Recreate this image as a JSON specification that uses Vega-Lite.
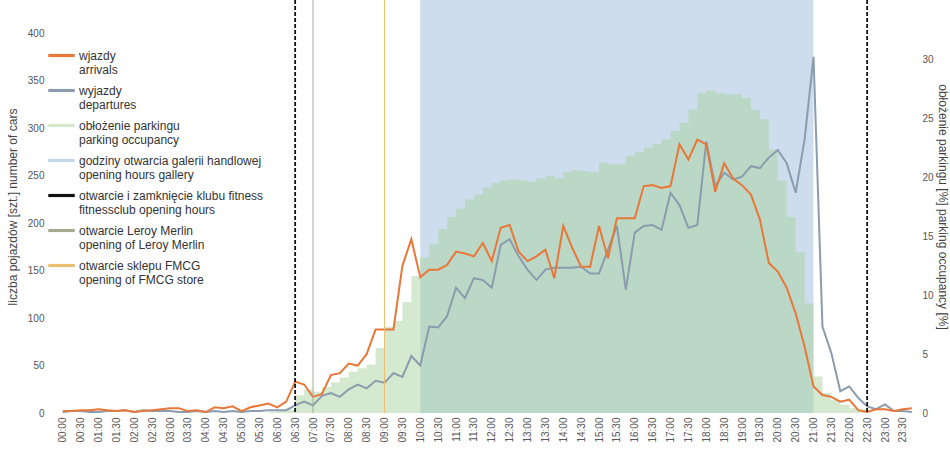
{
  "$schema": "https://vega.github.io/schema/vega-lite/v6.json",
  "width": 858,
  "height": 413,
  "autosize": "none",
  "padding": {"left": 58, "top": 0, "right": 34, "bottom": 43},
  "background": "white",
  "config": {
    "view": {"stroke": null},
    "font": "Liberation Sans",
    "axis": {"grid": false, "domain": false, "ticks": false, "labelColor": "#555", "labelFontSize": 10, "titleColor": "#444", "titleFontWeight": "normal", "titleFontSize": 11}
  },
  "datasets": {
    "ts": [
      {"t": "2020-01-01T00:00", "arr": 2, "dep": 1, "occ": 0},
      {"t": "2020-01-01T00:15", "arr": 2, "dep": 2, "occ": 0},
      {"t": "2020-01-01T00:30", "arr": 3, "dep": 2, "occ": 0},
      {"t": "2020-01-01T00:45", "arr": 3, "dep": 1, "occ": 0},
      {"t": "2020-01-01T01:00", "arr": 4, "dep": 1, "occ": 0},
      {"t": "2020-01-01T01:15", "arr": 3, "dep": 2, "occ": 0},
      {"t": "2020-01-01T01:30", "arr": 2, "dep": 2, "occ": 0},
      {"t": "2020-01-01T01:45", "arr": 3, "dep": 3, "occ": 0},
      {"t": "2020-01-01T02:00", "arr": 1, "dep": 1, "occ": 0},
      {"t": "2020-01-01T02:15", "arr": 2, "dep": 3, "occ": 0},
      {"t": "2020-01-01T02:30", "arr": 3, "dep": 2, "occ": 0},
      {"t": "2020-01-01T02:45", "arr": 4, "dep": 2, "occ": 0},
      {"t": "2020-01-01T03:00", "arr": 5, "dep": 2, "occ": 0},
      {"t": "2020-01-01T03:15", "arr": 5, "dep": 1, "occ": 0},
      {"t": "2020-01-01T03:30", "arr": 2, "dep": 1, "occ": 0},
      {"t": "2020-01-01T03:45", "arr": 3, "dep": 2, "occ": 0},
      {"t": "2020-01-01T04:00", "arr": 1, "dep": 1, "occ": 0},
      {"t": "2020-01-01T04:15", "arr": 6, "dep": 2, "occ": 0},
      {"t": "2020-01-01T04:30", "arr": 5, "dep": 1, "occ": 0},
      {"t": "2020-01-01T04:45", "arr": 7, "dep": 2, "occ": 0},
      {"t": "2020-01-01T05:00", "arr": 2, "dep": 1, "occ": 0},
      {"t": "2020-01-01T05:15", "arr": 6, "dep": 2, "occ": 0},
      {"t": "2020-01-01T05:30", "arr": 8, "dep": 2, "occ": 0},
      {"t": "2020-01-01T05:45", "arr": 10, "dep": 3, "occ": 0.1},
      {"t": "2020-01-01T06:00", "arr": 6, "dep": 3, "occ": 0.2},
      {"t": "2020-01-01T06:15", "arr": 12, "dep": 3, "occ": 0.3},
      {"t": "2020-01-01T06:30", "arr": 33, "dep": 8, "occ": 1.5},
      {"t": "2020-01-01T06:45", "arr": 30, "dep": 12, "occ": 2},
      {"t": "2020-01-01T07:00", "arr": 17, "dep": 8, "occ": 1.8},
      {"t": "2020-01-01T07:15", "arr": 20, "dep": 18, "occ": 2.2},
      {"t": "2020-01-01T07:30", "arr": 40, "dep": 21, "occ": 2.6},
      {"t": "2020-01-01T07:45", "arr": 42, "dep": 17, "occ": 3},
      {"t": "2020-01-01T08:00", "arr": 52, "dep": 25, "occ": 3.5},
      {"t": "2020-01-01T08:15", "arr": 50, "dep": 30, "occ": 3.8},
      {"t": "2020-01-01T08:30", "arr": 62, "dep": 26, "occ": 4.1},
      {"t": "2020-01-01T08:45", "arr": 88, "dep": 34, "occ": 5.5},
      {"t": "2020-01-01T09:00", "arr": 88, "dep": 32, "occ": 7.3},
      {"t": "2020-01-01T09:15", "arr": 88, "dep": 42, "occ": 7.8},
      {"t": "2020-01-01T09:30", "arr": 155, "dep": 38, "occ": 9.4},
      {"t": "2020-01-01T09:45", "arr": 183, "dep": 60, "occ": 11.6},
      {"t": "2020-01-01T10:00", "arr": 143, "dep": 50, "occ": 13.2},
      {"t": "2020-01-01T10:15", "arr": 151, "dep": 91, "occ": 14.3},
      {"t": "2020-01-01T10:30", "arr": 151, "dep": 90, "occ": 15.6},
      {"t": "2020-01-01T10:45", "arr": 156, "dep": 102, "occ": 16.6},
      {"t": "2020-01-01T11:00", "arr": 170, "dep": 132, "occ": 17.3},
      {"t": "2020-01-01T11:15", "arr": 168, "dep": 121, "occ": 18.1},
      {"t": "2020-01-01T11:30", "arr": 165, "dep": 142, "occ": 18.5},
      {"t": "2020-01-01T11:45", "arr": 179, "dep": 140, "occ": 19.1},
      {"t": "2020-01-01T12:00", "arr": 160, "dep": 132, "occ": 19.5},
      {"t": "2020-01-01T12:15", "arr": 195, "dep": 177, "occ": 19.7},
      {"t": "2020-01-01T12:30", "arr": 198, "dep": 183, "occ": 19.8},
      {"t": "2020-01-01T12:45", "arr": 170, "dep": 165, "occ": 19.7},
      {"t": "2020-01-01T13:00", "arr": 160, "dep": 151, "occ": 19.6},
      {"t": "2020-01-01T13:15", "arr": 165, "dep": 140, "occ": 19.9},
      {"t": "2020-01-01T13:30", "arr": 172, "dep": 151, "occ": 20.1},
      {"t": "2020-01-01T13:45", "arr": 142, "dep": 153, "occ": 19.9},
      {"t": "2020-01-01T14:00", "arr": 197, "dep": 153, "occ": 20.4},
      {"t": "2020-01-01T14:15", "arr": 174, "dep": 153, "occ": 20.6},
      {"t": "2020-01-01T14:30", "arr": 154, "dep": 154, "occ": 20.5},
      {"t": "2020-01-01T14:45", "arr": 154, "dep": 147, "occ": 20.4},
      {"t": "2020-01-01T15:00", "arr": 197, "dep": 147, "occ": 21.2},
      {"t": "2020-01-01T15:15", "arr": 163, "dep": 172, "occ": 21.1},
      {"t": "2020-01-01T15:30", "arr": 205, "dep": 197, "occ": 21.1},
      {"t": "2020-01-01T15:45", "arr": 205, "dep": 130, "occ": 21.8},
      {"t": "2020-01-01T16:00", "arr": 205, "dep": 190, "occ": 22.1},
      {"t": "2020-01-01T16:15", "arr": 239, "dep": 197, "occ": 22.5},
      {"t": "2020-01-01T16:30", "arr": 240, "dep": 198, "occ": 22.8},
      {"t": "2020-01-01T16:45", "arr": 237, "dep": 193, "occ": 23.2},
      {"t": "2020-01-01T17:00", "arr": 239, "dep": 232, "occ": 23.9},
      {"t": "2020-01-01T17:15", "arr": 283, "dep": 219, "occ": 24.6},
      {"t": "2020-01-01T17:30", "arr": 267, "dep": 195, "occ": 25.7},
      {"t": "2020-01-01T17:45", "arr": 288, "dep": 198, "occ": 27.1},
      {"t": "2020-01-01T18:00", "arr": 283, "dep": 286, "occ": 27.3},
      {"t": "2020-01-01T18:15", "arr": 233, "dep": 239, "occ": 27.1},
      {"t": "2020-01-01T18:30", "arr": 263, "dep": 253, "occ": 27},
      {"t": "2020-01-01T18:45", "arr": 247, "dep": 246, "occ": 27},
      {"t": "2020-01-01T19:00", "arr": 240, "dep": 249, "occ": 26.7},
      {"t": "2020-01-01T19:15", "arr": 230, "dep": 260, "occ": 25.7},
      {"t": "2020-01-01T19:30", "arr": 204, "dep": 258, "occ": 24.9},
      {"t": "2020-01-01T19:45", "arr": 158, "dep": 269, "occ": 22.3},
      {"t": "2020-01-01T20:00", "arr": 149, "dep": 277, "occ": 19.7},
      {"t": "2020-01-01T20:15", "arr": 132, "dep": 263, "occ": 16.6},
      {"t": "2020-01-01T20:30", "arr": 105, "dep": 232, "occ": 13.6},
      {"t": "2020-01-01T20:45", "arr": 70, "dep": 288, "occ": 9.3},
      {"t": "2020-01-01T21:00", "arr": 28, "dep": 375, "occ": 3.1},
      {"t": "2020-01-01T21:15", "arr": 19, "dep": 91, "occ": 1.7},
      {"t": "2020-01-01T21:30", "arr": 17, "dep": 63, "occ": 1.1},
      {"t": "2020-01-01T21:45", "arr": 12, "dep": 23, "occ": 0.7},
      {"t": "2020-01-01T22:00", "arr": 14, "dep": 28, "occ": 0.4},
      {"t": "2020-01-01T22:15", "arr": 3, "dep": 16, "occ": 0.3},
      {"t": "2020-01-01T22:30", "arr": 1, "dep": 7, "occ": 0},
      {"t": "2020-01-01T22:45", "arr": 4, "dep": 4, "occ": 0},
      {"t": "2020-01-01T23:00", "arr": 4, "dep": 9, "occ": 0},
      {"t": "2020-01-01T23:15", "arr": 2, "dep": 2, "occ": 0},
      {"t": "2020-01-01T23:30", "arr": 4, "dep": 2, "occ": 0},
      {"t": "2020-01-01T23:45", "arr": 5, "dep": 1, "occ": 0}
    ],
    "fitness": [{"t": "2020-01-01T06:30"}, {"t": "2020-01-01T22:30"}],
    "leroy": [{"t": "2020-01-01T07:00"}],
    "fmcg": [{"t": "2020-01-01T09:00"}],
    "gallery": [{"start": "2020-01-01T10:00", "end": "2020-01-01T21:00"}],
    "leg": [
      {"k": "wjazdy|arrivals"},
      {"k": "wyjazdy|departures"},
      {"k": "obłożenie parkingu|parking occupancy"},
      {"k": "godziny otwarcia galerii handlowej|opening hours gallery"},
      {"k": "otwarcie i zamknięcie klubu fitness|fitnessclub opening hours"},
      {"k": "otwarcie Leroy Merlin|opening of Leroy Merlin"},
      {"k": "otwarcie sklepu FMCG|opening of FMCG store"}
    ]
  },
  "encoding": {
    "x": {"field": "t", "type": "temporal", "scale": {"domain": ["2019-12-31T23:52", "2020-01-01T23:52"]}, "axis": {"format": "%H:%M", "labelAngle": -90, "tickCount": 48, "title": null, "labelFontSize": 10, "labelPadding": 4}}
  },
  "resolve": {"scale": {"y": "independent"}},
  "layer": [
    {
      "data": {"name": "gallery"},
      "mark": {"type": "rect", "color": "#c4d7ea", "opacity": 0.85},
      "encoding": {
        "x": {"field": "start", "type": "temporal"},
        "x2": {"field": "end"}
      }
    },
    {
      "data": {"name": "ts"},
      "mark": {"type": "area", "interpolate": "step-after", "color": "#a9d49f", "opacity": 0.5},
      "encoding": {
        "y": {"field": "occ", "type": "quantitative", "scale": {"domain": [0, 35]}, "axis": {"orient": "right", "values": [0, 5, 10, 15, 20, 25, 30], "title": "obłożenie parkingu [%] parking occupancy [%]", "titlePadding": 2, "labelPadding": 6, "titleFontSize": 12}}
      }
    },
    {
      "data": {"name": "ts"},
      "mark": {"type": "line", "color": "#8a9cad", "strokeWidth": 2},
      "encoding": {
        "y": {"field": "dep", "type": "quantitative", "scale": {"domain": [0, 435]}, "axis": {"orient": "left", "values": [0, 50, 100, 150, 200, 250, 300, 350, 400], "title": "liczba pojazdów [szt.] number of cars", "labelPadding": 14, "titlePadding": 8, "titleFontSize": 12}}
      }
    },
    {
      "data": {"name": "ts"},
      "mark": {"type": "line", "color": "#e8773a", "strokeWidth": 2},
      "encoding": {
        "y": {"field": "arr", "type": "quantitative", "scale": {"domain": [0, 435]}, "axis": null}
      }
    },
    {
      "data": {"name": "fitness"},
      "mark": {"type": "rule", "color": "#111111", "strokeDash": [4, 2], "strokeWidth": 1.8},
      "encoding": {}
    },
    {
      "data": {"name": "leroy"},
      "mark": {"type": "rule", "color": "#a8a890", "strokeWidth": 1},
      "encoding": {}
    },
    {
      "data": {"name": "fmcg"},
      "mark": {"type": "rule", "color": "#e8c070", "strokeWidth": 1},
      "encoding": {}
    },
    {
      "data": {"name": "leg"},
      "mark": {"type": "point", "opacity": 0},
      "encoding": {
        "fill": {
          "field": "k", "type": "nominal",
          "scale": {"domain": ["wjazdy|arrivals", "wyjazdy|departures", "obłożenie parkingu|parking occupancy", "godziny otwarcia galerii handlowej|opening hours gallery", "otwarcie i zamknięcie klubu fitness|fitnessclub opening hours", "otwarcie Leroy Merlin|opening of Leroy Merlin", "otwarcie sklepu FMCG|opening of FMCG store"],
            "range": ["#e8773a", "#8a9cad", "#d4e9cc", "#c4d7ea", "#111111", "#a8a890", "#e8c070"]},
          "legend": {
            "orient": "none", "legendX": -10, "legendY": 42, "title": null,
            "labelExpr": "split(datum.label, '|')",
            "labelFontSize": 12, "labelColor": "#333", "labelLimit": 300,
            "rowPadding": 1, "symbolSize": 700, "symbolOpacity": 1,
            "symbolType": "M-1,-0.12H1V0.12H-1Z", "symbolStrokeWidth": 0
          }
        }
      }
    }
  ]
}
